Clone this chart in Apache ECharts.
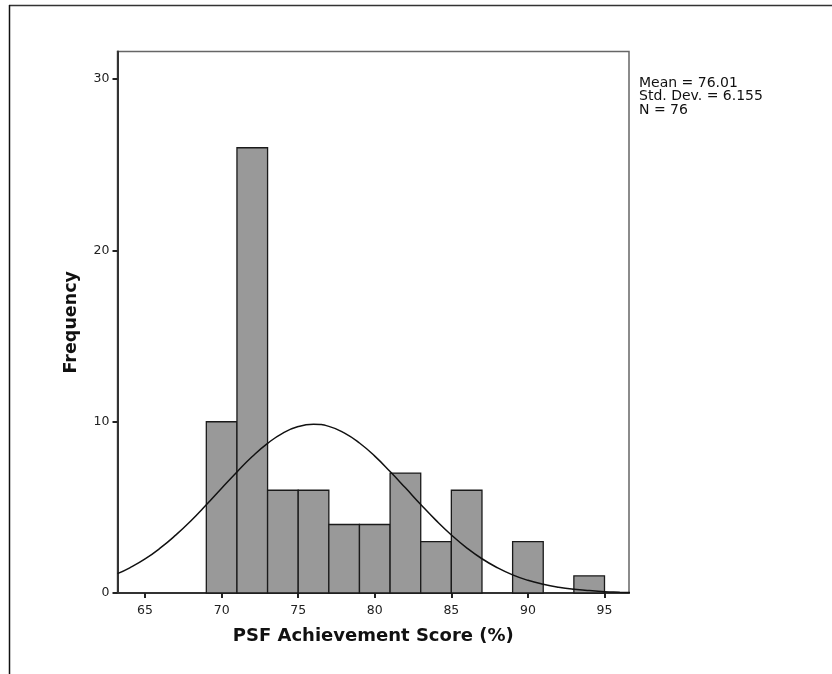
<!DOCTYPE html>
<html>
<head>
<meta charset="utf-8">
<script src="https://cdn.jsdelivr.net/npm/echarts@6/dist/echarts.min.js"></script>
<style>html,body{margin:0;padding:0;background:#fff}#c{width:832px;height:674px}</style>
</head>
<body>
<div id="c"></div>
<script>
// Histogram bins: [start, end, frequency]
const binStarts = [69, 71, 73, 75, 77, 79, 81, 83, 85, 87, 89, 91, 93];
const binEnds   = [71, 73, 75, 77, 79, 81, 83, 85, 87, 89, 91, 93, 95];
const binCounts = [10, 26, 6, 6, 4, 4, 7, 3, 6, 0, 3, 0, 1];

// Fitted normal curve
const curveX = [63.2, 64, 65, 66, 67, 68, 69, 70, 71, 72, 73, 74, 75, 76, 77, 78, 79, 80, 81, 82, 83, 84, 85, 86, 87, 88, 89, 90, 91, 92, 93, 94, 95, 96, 96.7];
const curveY = [1.13, 1.47, 1.99, 2.63, 3.38, 4.22, 5.15, 6.12, 7.07, 7.97, 8.74, 9.34, 9.72, 9.85, 9.73, 9.35, 8.76, 7.99, 7.09, 6.14, 5.17, 4.24, 3.39, 2.64, 2.00, 1.48, 1.06, 0.74, 0.51, 0.34, 0.22, 0.14, 0.08, 0.05, 0.03];

const xTicks = [65, 70, 75, 80, 85, 90, 95];
const yTicks = [0, 10, 20, 30];
const statsLines = ['Mean = 76.01', 'Std. Dev. = 6.155', 'N = 76'];

const xTitle = 'PSF Achievement Score (%)';
const yTitle = 'Frequency';

const FONT = 'DejaVu Sans';
const chart = echarts.init(document.getElementById('c'), null, {renderer: 'canvas'});

const barData = binStarts.map((s, i) => [s, binEnds[i], binCounts[i]]).filter(d => d[2] > 0);
const curveData = curveX.map((x, i) => [x, curveY[i]]);

chart.setOption({
  animation: false,
  backgroundColor: '#fff',
  grid: {left: 117.5, top: 51.5, right: 203, bottom: 81, show: true, borderColor: '#666', borderWidth: 1.5, containLabel: false},
  xAxis: {
    type: 'value', min: 63.2, max: 96.6,
    name: xTitle, nameLocation: 'middle', nameGap: 34,
    nameTextStyle: {fontFamily: FONT, fontSize: 18, fontWeight: 'bold', color: '#111'},
    axisLine: {show: true, onZero: false, lineStyle: {color: '#333', width: 2}},
    axisTick: {show: true, length: 5, customValues: xTicks, lineStyle: {color: '#222', width: 2}},
    axisLabel: {customValues: xTicks, margin: 11, fontFamily: FONT, fontSize: 12.5, color: '#222'},
    splitLine: {show: false}
  },
  yAxis: {
    type: 'value', min: 0, max: 31.62,
    name: yTitle, nameLocation: 'middle', nameGap: 37, nameRotate: 90,
    nameTextStyle: {fontFamily: FONT, fontSize: 17.5, fontWeight: 'bold', color: '#111'},
    axisLine: {show: true, lineStyle: {color: '#333', width: 2}},
    axisTick: {show: true, length: 5, customValues: yTicks, lineStyle: {color: '#222', width: 2}},
    axisLabel: {customValues: yTicks, margin: 8, fontFamily: FONT, fontSize: 12.5, color: '#222'},
    splitLine: {show: false}
  },
  series: [
    {
      type: 'custom',
      data: barData,
      encode: {x: [0, 1], y: 2},
      renderItem: function (params, api) {
        const p0 = api.coord([api.value(0), 0]);
        const p1 = api.coord([api.value(1), api.value(2)]);
        return {
          type: 'rect',
          shape: {x: p0[0], y: p1[1], width: p1[0] - p0[0], height: p0[1] - p1[1]},
          style: {fill: '#999999', stroke: '#1a1a1a', lineWidth: 1.3}
        };
      },
      z: 2
    },
    {
      type: 'line',
      data: curveData,
      smooth: true,
      showSymbol: false,
      symbol: 'none',
      lineStyle: {color: '#111', width: 1.5},
      z: 3
    }
  ],
  graphic: [
    {type: 'line', shape: {x1: 9, y1: 5.5, x2: 832, y2: 5.5}, style: {stroke: '#333', lineWidth: 1.5}},
    {type: 'line', shape: {x1: 9.5, y1: 5, x2: 9.5, y2: 674}, style: {stroke: '#111', lineWidth: 1.5}},
    {type: 'text', left: 639, top: 76, style: {text: statsLines.join('\n'), font: '14px "DejaVu Sans"', fill: '#111', lineHeight: 13.5}}
  ]
});
</script>
</body>
</html>
